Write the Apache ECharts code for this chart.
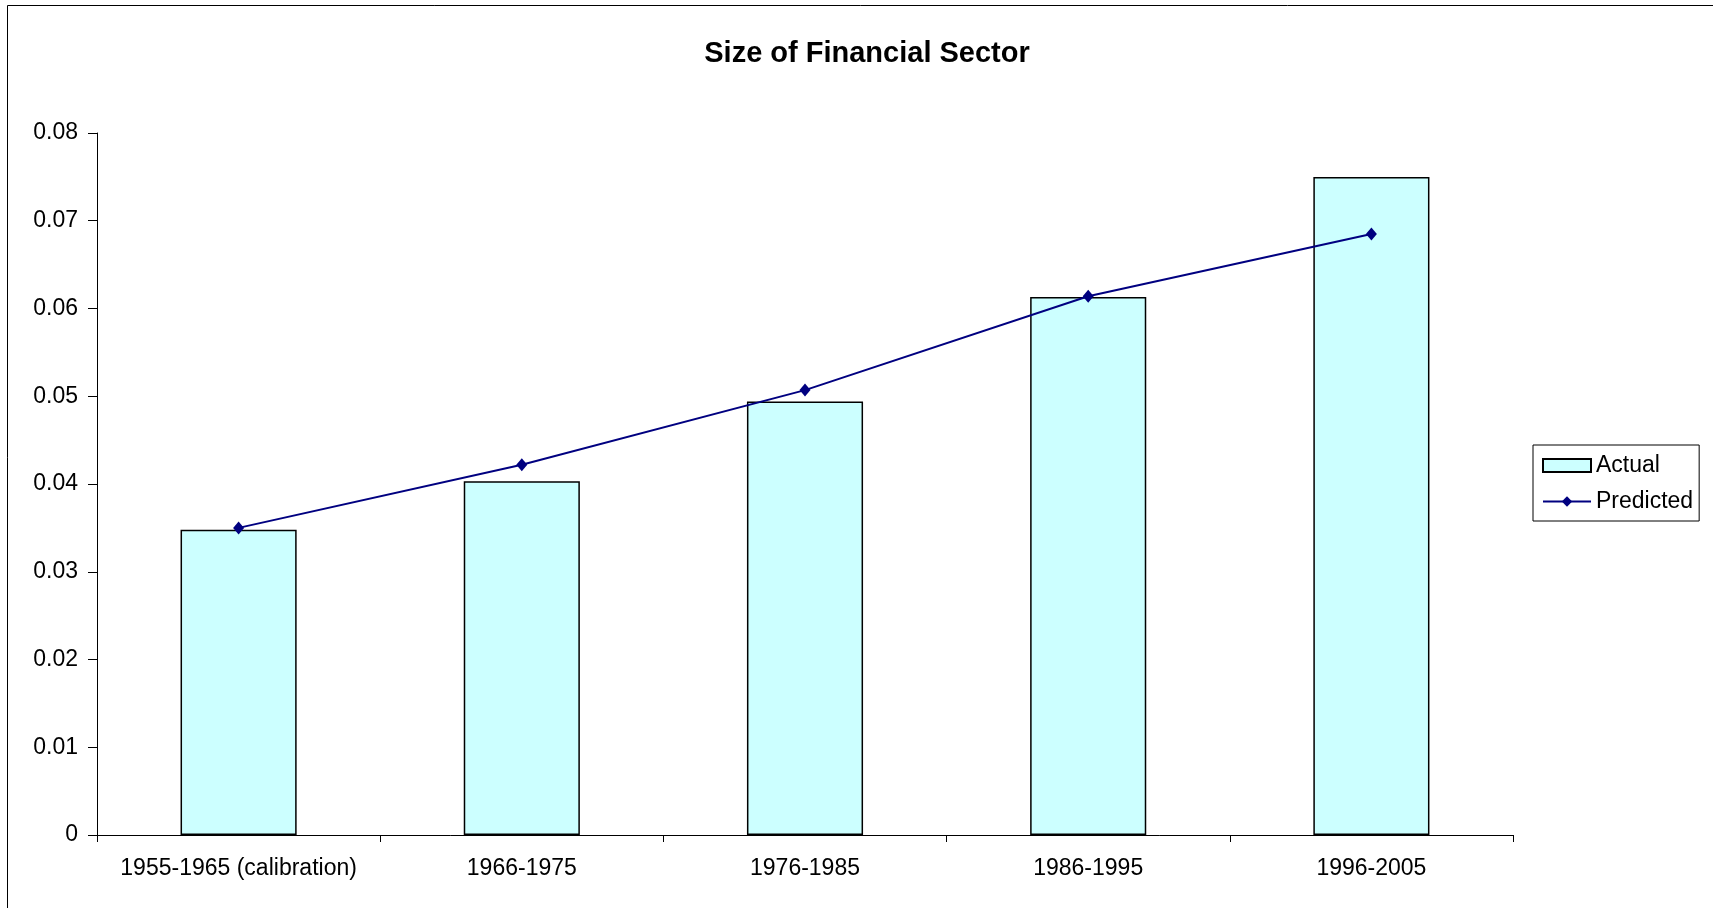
<!DOCTYPE html>
<html>
<head>
<meta charset="utf-8">
<script src="https://cdn.jsdelivr.net/npm/echarts@6/dist/echarts.min.js"></script>
<style>
  html, body { margin: 0; padding: 0; background: #fff; }
  #main { width: 1713px; height: 908px; }
</style>
</head>
<body>
<div id="main"></div>
<script>
// data
const periods = ["1955-1965 (calibration)", "1966-1975", "1976-1985", "1986-1995", "1996-2005"];
const actual = [0.0348, 0.0403, 0.0494, 0.0613, 0.0750];
const predicted = [0.0350, 0.0422, 0.0507, 0.0614, 0.0685];
const yTicks = [0, 0.01, 0.02, 0.03, 0.04, 0.05, 0.06, 0.07, 0.08];

const font = "Liberation Sans, Arial, sans-serif";
const chart = echarts.init(document.getElementById("main"));

const option = {
    backgroundColor: "#fff",
    animation: false,
    title: {
        text: "Size of Financial Sector",
        left: 862,
        top: 34,
        textAlign: "center",
        textStyle: { fontFamily: font, fontSize: 29, fontWeight: "bold", color: "#000" },
    },
    legend: {
        orient: "vertical",
        left: 1533,
        top: 445,
        padding: [9, 6, 8, 9],
        itemWidth: 48,
        itemHeight: 13,
        itemGap: 13,
        borderColor: "#000",
        borderWidth: 1,
        textStyle: { fontFamily: font, fontSize: 23, color: "#000" },
        data: [{ name: "Actual", icon: "rect" }, { name: "Predicted" }],
    },
    graphic: [{
        type: "rect",
        shape: { x: 7.5, y: 5.5, width: 1720, height: 920 },
        style: { fill: null, stroke: "#000", lineWidth: 1 },
        silent: true,
    }],
    grid: { left: 97, right: 200, top: 133, bottom: 73 },
    xAxis: {
        type: "category",
        data: periods,
        boundaryGap: true,
        axisLine: { lineStyle: { color: "#000", width: 1 } },
        axisTick: { show: true, interval: 0, length: 7, inside: false, lineStyle: { color: "#000" } },
        axisLabel: { interval: 0, hideOverlap: false, fontFamily: font, fontSize: 23, color: "#000", margin: 22 },
    },
    yAxis: {
        type: "value",
        min: yTicks[0],
        max: yTicks[yTicks.length - 1],
        interval: 0.01,
        splitLine: { show: false },
        axisLine: { show: true, lineStyle: { color: "#000", width: 1 } },
        axisTick: { show: true, length: 9, lineStyle: { color: "#000" } },
        axisLabel: {
            fontFamily: font, fontSize: 23, color: "#000", margin: 19,
            formatter: (v) => String(+v.toFixed(2)),
        },
    },
    series: [
        {
            name: "Actual",
            type: "bar",
            data: actual,
            barWidth: "41%",
            itemStyle: { color: "#CCFFFF", borderColor: "#000", borderWidth: 1.5 },
        },
        {
            name: "Predicted",
            type: "line",
            data: predicted,
            symbol: "diamond",
            symbolSize: [11, 13],
            lineStyle: { color: "#000080", width: 2 },
            itemStyle: { color: "#000080" },
        },
    ],
};
chart.setOption(option);
</script>
</body>
</html>
